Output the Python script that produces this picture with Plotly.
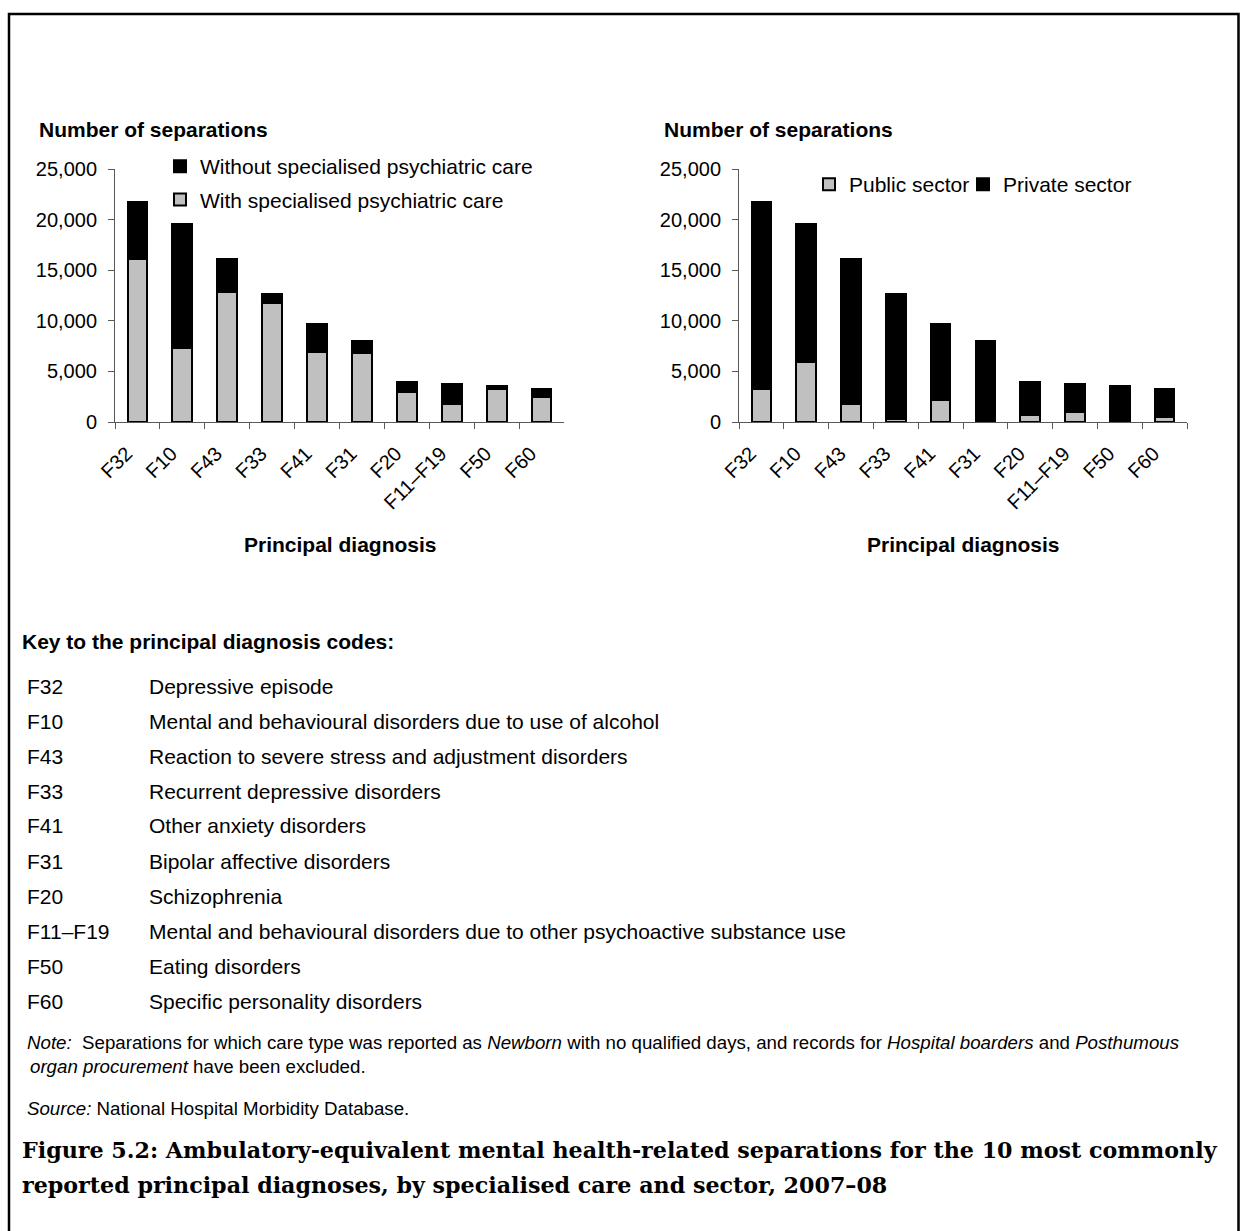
import plotly.graph_objects as go

W, H = 1240, 1231

# ---------------- data ----------------
codes = ["F32", "F10", "F43", "F33", "F41", "F31", "F20", "F11–F19", "F50", "F60"]
with_spec = [16100, 7300, 12800, 11800, 6900, 6800, 3000, 1800, 3300, 2500]
without_spec = [5600, 12300, 3300, 850, 2800, 1200, 1000, 2000, 300, 750]
public_sector = [3300, 5900, 1800, 300, 2150, 0, 650, 1000, 0, 450]
private_sector = [18400, 13700, 14300, 12350, 7550, 8000, 3350, 2800, 3600, 2800]
descriptions = [
    "Depressive episode",
    "Mental and behavioural disorders due to use of alcohol",
    "Reaction to severe stress and adjustment disorders",
    "Recurrent depressive disorders",
    "Other anxiety disorders",
    "Bipolar affective disorders",
    "Schizophrenia",
    "Mental and behavioural disorders due to other psychoactive substance use",
    "Eating disorders",
    "Specific personality disorders",
]
y_ticks = [0, 5000, 10000, 15000, 20000, 25000]

GREY = "#c0c0c0"
BLACK = "#000000"
AX = "#595959"
SANS = "Arial, Liberation Sans, sans-serif"
SERIF = "DejaVu Serif, serif"


def px(x):
    return x / W


def py(y):
    return 1 - y / H


fig = go.Figure()

bar_line = dict(color="black", width=2)
# Left chart
fig.add_trace(go.Bar(x=codes, y=with_spec, name="With specialised psychiatric care",
                     marker=dict(color=GREY, line=bar_line), xaxis="x", yaxis="y",
                     legend="legend", legendgroup="a", legendrank=2))
fig.add_trace(go.Bar(x=codes, y=without_spec, name="Without specialised psychiatric care",
                     marker=dict(color=BLACK, line=bar_line), xaxis="x", yaxis="y",
                     legend="legend", legendgroup="b", legendrank=1))
# Right chart
fig.add_trace(go.Bar(x=codes, y=public_sector, name="Public sector",
                     marker=dict(color=GREY, line=bar_line), xaxis="x2", yaxis="y2",
                     legend="legend2"))
fig.add_trace(go.Bar(x=codes, y=private_sector, name="Private sector",
                     marker=dict(color=BLACK, line=bar_line), xaxis="x2", yaxis="y2",
                     legend="legend3"))

xcommon = dict(type="category", tickson="boundaries", ticks="outside", ticklen=6,
               tickangle=-45, showline=True, linecolor=AX, linewidth=1, tickcolor=AX,
               tickfont=dict(family=SANS, size=20, color="black"), showgrid=False,
               zeroline=False, ticklabelshift=-11, ticklabelstandoff=11, automargin=False)
ycommon = dict(range=[0, 25000], tickvals=y_ticks, tickformat=",", ticks="outside",
               ticklen=6, showline=True, linecolor=AX, linewidth=1, tickcolor=AX,
               tickfont=dict(family=SANS, size=20, color="black"), showgrid=False,
               zeroline=False, ticklabelstandoff=7, automargin=False)

legfont = dict(family=SANS, size=21, color="black")
fig.update_layout(
    width=W, height=H,
    margin=dict(l=0, r=0, t=0, b=0, autoexpand=False),
    paper_bgcolor="white", plot_bgcolor="white",
    barmode="stack", bargap=0.56,
    font=dict(family=SANS, size=20, color="black"),
    xaxis=dict(domain=[px(115), px(564)], anchor="y", **xcommon),
    yaxis=dict(domain=[py(422), py(169)], anchor="x", **ycommon),
    xaxis2=dict(domain=[px(739), px(1187)], anchor="y2", **xcommon),
    yaxis2=dict(domain=[py(422), py(169)], anchor="x2", **ycommon),
    legend=dict(x=px(160), y=py(146), xanchor="left", yanchor="top",
                traceorder="grouped", tracegroupgap=3, font=legfont,
                bgcolor="rgba(0,0,0,0)"),
    legend2=dict(x=px(809), y=py(164), xanchor="left", yanchor="top",
                 font=legfont, bgcolor="rgba(0,0,0,0)"),
    legend3=dict(x=px(963), y=py(164), xanchor="left", yanchor="top",
                 font=legfont, bgcolor="rgba(0,0,0,0)"),
    showlegend=True,
)

ann = []
# axis headings
for xl in (37, 662):
    ann.append(dict(x=px(xl), y=py(130), xref="paper", yref="paper", xanchor="left",
                    yanchor="middle", showarrow=False, text="<b>Number of separations</b>",
                    font=dict(family=SANS, size=21)))
for xc in (340, 963):
    ann.append(dict(x=px(xc), y=py(544), xref="paper", yref="paper", xanchor="center",
                    yanchor="middle", showarrow=False, text="<b>Principal diagnosis</b>",
                    font=dict(family=SANS, size=21)))

# key
ann.append(dict(x=px(20), y=py(641), xref="paper", yref="paper", xanchor="left",
                yanchor="middle", showarrow=False,
                text="<b>Key to the principal diagnosis codes:</b>",
                font=dict(family=SANS, size=21)))
for i, (c, d) in enumerate(zip(codes, descriptions)):
    yy = 686 + i * 35
    ann.append(dict(x=px(25), y=py(yy), xref="paper", yref="paper", xanchor="left",
                    yanchor="middle", showarrow=False, text=c,
                    font=dict(family=SANS, size=21)))
    ann.append(dict(x=px(147), y=py(yy), xref="paper", yref="paper", xanchor="left",
                    yanchor="middle", showarrow=False, text=d,
                    font=dict(family=SANS, size=21)))

# notes
NOTE = 18.7
ann.append(dict(x=px(25), y=py(1042), xref="paper", yref="paper", xanchor="left",
                yanchor="middle", showarrow=False,
                text="<i>Note:</i>  Separations for which care type was reported as <i>Newborn</i> "
                     "with no qualified days, and records for <i>Hospital boarders</i> and "
                     "<i>Posthumous</i>",
                font=dict(family=SANS, size=NOTE)))
ann.append(dict(x=px(28), y=py(1066), xref="paper", yref="paper", xanchor="left",
                yanchor="middle", showarrow=False,
                text="<i>organ procurement</i> have been excluded.",
                font=dict(family=SANS, size=NOTE)))
ann.append(dict(x=px(25), y=py(1108), xref="paper", yref="paper", xanchor="left",
                yanchor="middle", showarrow=False,
                text="<i>Source:</i> National Hospital Morbidity Database.",
                font=dict(family=SANS, size=NOTE)))

# figure title
ann.append(dict(x=px(20), y=py(1150), xref="paper", yref="paper", xanchor="left",
                yanchor="middle", showarrow=False,
                text="<b>Figure 5.2: Ambulatory-equivalent mental health-related separations "
                     "for the 10 most commonly</b>",
                font=dict(family=SERIF, size=22.2)))
ann.append(dict(x=px(20), y=py(1185), xref="paper", yref="paper", xanchor="left",
                yanchor="middle", showarrow=False,
                text="<b>reported principal diagnoses, by specialised care and sector, 2007–08</b>",
                font=dict(family=SERIF, size=22.2)))

fig.update_layout(annotations=ann)

# outer frame
fig.add_shape(type="rect", xref="paper", yref="paper", x0=px(9), x1=px(1238.5),
              y0=-0.05, y1=py(14), line=dict(color="black", width=2.5),
              fillcolor="rgba(0,0,0,0)", layer="above")

fig.write_html(
    "out.html",
    config={"displayModeBar": False},
    post_script="document.body.style.margin='0px';document.body.style.padding='0px';"
                "document.documentElement.style.overflow='hidden';",
)
